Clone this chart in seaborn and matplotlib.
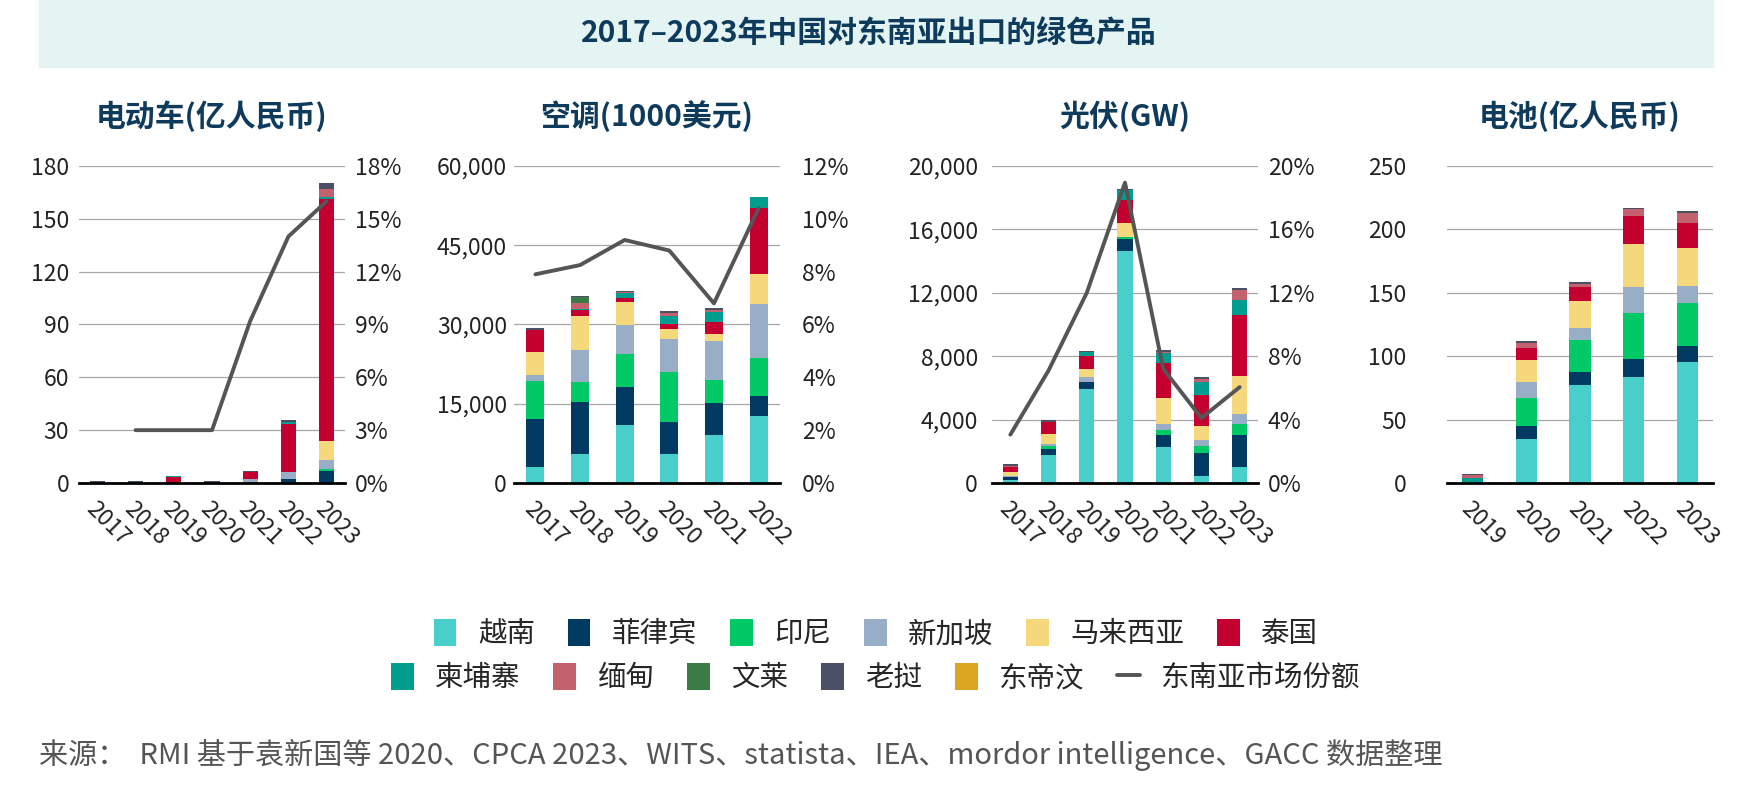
import numpy as np
import pandas as pd
import matplotlib.pyplot as plt
import seaborn as sns
from matplotlib.patches import Patch, Rectangle
from matplotlib.lines import Line2D
from matplotlib.ticker import FuncFormatter, MultipleLocator

#-------------------------------- DATA ---------------------------------
countries = ["越南", "菲律宾", "印尼", "新加坡", "马来西亚", "泰国",
             "柬埔寨", "缅甸", "文莱", "老挝", "东帝汶"]
colors = ["#48CFCB", "#003A63", "#00C965", "#97AEC6", "#F5D87B", "#C3002F",
          "#009E8F", "#C4616F", "#3A7D44", "#4B5064", "#DAA520"]

# 电动车 (亿人民币)
ev_years = ["2017", "2018", "2019", "2020", "2021", "2022", "2023"]
ev_values = {
    "菲律宾": [0.8, 0.7, 0, 0.7, 0, 2.5, 6.6],
    "印尼": [0, 0, 0, 0, 0, 0, 1.5],
    "新加坡": [0, 0, 0, 0, 2.2, 3.5, 5.1],
    "马来西亚": [0, 0, 0, 0, 0, 0, 10.4],
    "泰国": [0, 0, 3.2, 0, 3.8, 27.4, 137.4],
    "柬埔寨": [0, 0, 0.6, 0, 0, 1.3, 1.5],
    "缅甸": [0, 0, 0, 0, 0, 0, 4.2],
    "老挝": [0.3, 0.3, 0, 0.3, 1.0, 1.0, 3.4],
}
ev_share = [np.nan, 3.0, 3.0, 3.0, 9.2, 14.0, 16.0]

# 空调 (1000美元)
ac_years = ["2017", "2018", "2019", "2020", "2021", "2022"]
ac_values = {
    "越南": [3000, 5400, 11000, 5400, 9000, 12700],
    "菲律宾": [9100, 10000, 7100, 6200, 6200, 3700],
    "印尼": [7300, 3800, 6400, 9500, 4300, 7200],
    "新加坡": [1100, 6000, 5400, 6200, 7400, 10300],
    "马来西亚": [4300, 6400, 4300, 1900, 1300, 5700],
    "泰国": [4200, 1100, 800, 900, 2300, 12500],
    "柬埔寨": [0, 300, 900, 1600, 1900, 2100],
    "缅甸": [0, 1100, 300, 500, 300, 0],
    "文莱": [0, 1100, 0, 0, 0, 0],
    "老挝": [300, 100, 200, 300, 500, 0],
}
ac_share = [7.9, 8.25, 9.2, 8.8, 6.8, 10.4]

# 光伏 (GW)
pv_years = ["2017", "2018", "2019", "2020", "2021", "2022", "2023"]
pv_values = {
    "越南": [210, 1790, 5920, 14640, 2250, 460, 1010],
    "菲律宾": [150, 380, 480, 740, 800, 1430, 2040],
    "印尼": [50, 150, 0, 170, 270, 460, 690],
    "新加坡": [50, 150, 270, 0, 420, 380, 630],
    "马来西亚": [250, 590, 500, 840, 1620, 880, 2350],
    "泰国": [270, 780, 840, 1470, 2200, 1950, 3890],
    "柬埔寨": [0, 0, 230, 630, 630, 820, 950],
    "缅甸": [100, 0, 0, 0, 100, 200, 630],
    "老挝": [100, 130, 80, 60, 110, 90, 100],
}
pv_share = [3.05, 7.1, 12.0, 18.95, 7.2, 4.1, 6.05]

# 电池 (亿人民币)
bat_years = ["2019", "2020", "2021", "2022", "2023"]
bat_values = {
    "越南": [0.4, 34.9, 77.2, 83.5, 95.3],
    "菲律宾": [0, 9.7, 10.5, 14.4, 12.9],
    "印尼": [0, 22.8, 25.2, 36.2, 33.9],
    "新加坡": [0, 12.1, 9.5, 20.5, 13.4],
    "马来西亚": [0, 17.3, 21.3, 34.1, 29.7],
    "泰国": [0, 10.0, 10.5, 22.1, 20.0],
    "柬埔寨": [3.4, 0, 0, 0, 0],
    "缅甸": [2.2, 3.4, 2.9, 5.0, 8.1],
    "老挝": [1.4, 1.6, 1.3, 1.3, 1.3],
}

title = "2017–2023年中国对东南亚出口的绿色产品"
source = "来源：  RMI 基于袁新国等 2020、CPCA 2023、WITS、statista、IEA、mordor intelligence、GACC 数据整理"

#-------------------------------- STYLE --------------------------------
sns.set_theme(style="white")
plt.rcParams['font.family'] = ['Noto Sans CJK SC', 'DejaVu Sans']
navy_text = "#0E3A5B"
tick_color = "#222222"
line_color = "#555555"

W, H = 1738, 793
fig = plt.figure(figsize=(W / 100, H / 100), dpi=100)

# title band
fig.patches.append(Rectangle((39 / W, 1 - 67 / H), (1713 - 39) / W, 67 / H,
                             transform=fig.transFigure, color="#E3F4F3", zorder=0))
fig.text(0.5, 1 - 34 / H, title, ha="center", va="center", fontsize=21.5,
         fontweight="bold", color=navy_text)


def panel(left_px, years, values, share, ymax, ystep, rmax, rstep, label,
          lpad, rpad, comma=False):
    ax = fig.add_axes([left_px / W, 1 - 483 / H, 266 / W, 317 / H])
    n = len(years)
    stack = np.array([values.get(c, [0] * n) for c in countries], dtype=float)
    cum = np.cumsum(stack, axis=0)
    # draw cumulative totals from the top layer down
    for i in range(len(countries) - 1, -1, -1):
        if stack[i].sum() == 0:
            continue
        sns.barplot(x=years, y=cum[i], order=years, color=colors[i], width=0.4,
                    saturation=1, linewidth=0, ax=ax, zorder=2)
    ax.set_ylim(0, ymax)
    ax.set_xlim(-0.48, n - 0.52)
    ax.yaxis.set_major_locator(MultipleLocator(ystep))
    if comma:
        ax.yaxis.set_major_formatter(FuncFormatter(lambda v, p: f"{v:,.0f}"))
    ax.grid(axis="y", color="#A8A8A8", linewidth=0.9, zorder=0)
    ax.set_axisbelow(True)
    for s in ["top", "left", "right"]:
        ax.spines[s].set_visible(False)
    ax.spines["bottom"].set_color("black")
    ax.spines["bottom"].set_linewidth(2.0)
    ax.spines["bottom"].set_zorder(5)
    ax.tick_params(axis="y", length=0, pad=lpad, labelsize=16.5, labelcolor=tick_color)
    ax.tick_params(axis="x", length=0, pad=10, labelsize=16.5, labelcolor=tick_color)
    ax.set_xlabel("")
    ax.set_ylabel("")
    for t in ax.get_xticklabels():
        t.set_rotation(-45)
        t.set_ha("left")
        t.set_va("top")
        t.set_rotation_mode("anchor")

    if share is not None:
        ax2 = ax.twinx()
        line_df = pd.DataFrame({"x": np.arange(n), "share": share}).dropna()
        sns.lineplot(data=line_df, x="x", y="share", color=line_color,
                     linewidth=2.8, ax=ax2)
        ax2.set_ylim(0, rmax)
        ax2.yaxis.set_major_locator(MultipleLocator(rstep))
        ax2.yaxis.set_major_formatter(FuncFormatter(lambda v, p: f"{v:.0f}%"))
        ax2.tick_params(axis="y", length=0, pad=rpad, labelsize=16.5,
                        labelcolor=tick_color)
        ax2.set_ylabel("")
        for s in ax2.spines.values():
            s.set_visible(False)
        ax2.grid(False)
        ax.set_xlim(-0.48, n - 0.52)

    fig.text((left_px + 133) / W, 1 - 116 / H, label, ha="center", va="center",
             fontsize=21.5, fontweight="bold", color=navy_text)
    return ax


panel(79, ev_years, ev_values, ev_share, 180, 30, 18, 3, "电动车(亿人民币)", 7, 7)
panel(514, ac_years, ac_values, ac_share, 60000, 15000, 12, 2, "空调(1000美元)", 5, 16, comma=True)
panel(992, pv_years, pv_values, pv_share, 20000, 4000, 20, 4, "光伏(GW)", 10, 7, comma=True)
panel(1447, bat_years, bat_values, None, 250, 50, None, None, "电池(亿人民币)", 29, 0)

#-------------------------------- LEGEND -------------------------------
handles = [Patch(facecolor=c, edgecolor="none", label=n) for n, c in zip(countries, colors)]
handles.append(Line2D([], [], color=line_color, linewidth=2.8, label="东南亚市场份额"))
leg_kw = dict(loc="center", frameon=False, fontsize=20.5, ncol=6, handlelength=0.8,
              handleheight=1.1, handletextpad=0.75, columnspacing=1.15)
fig.legend(handles=handles[:6], bbox_to_anchor=(0.504, 1 - 634 / H), **leg_kw)
leg_kw["handlelength"] = 0.8
fig.legend(handles=handles[6:], bbox_to_anchor=(0.504, 1 - 678 / H), **leg_kw)

fig.text(39 / W, 1 - 755 / H, source, ha="left", va="center", fontsize=21,
         color="#555555")

fig.savefig("out.png", dpi=100)
